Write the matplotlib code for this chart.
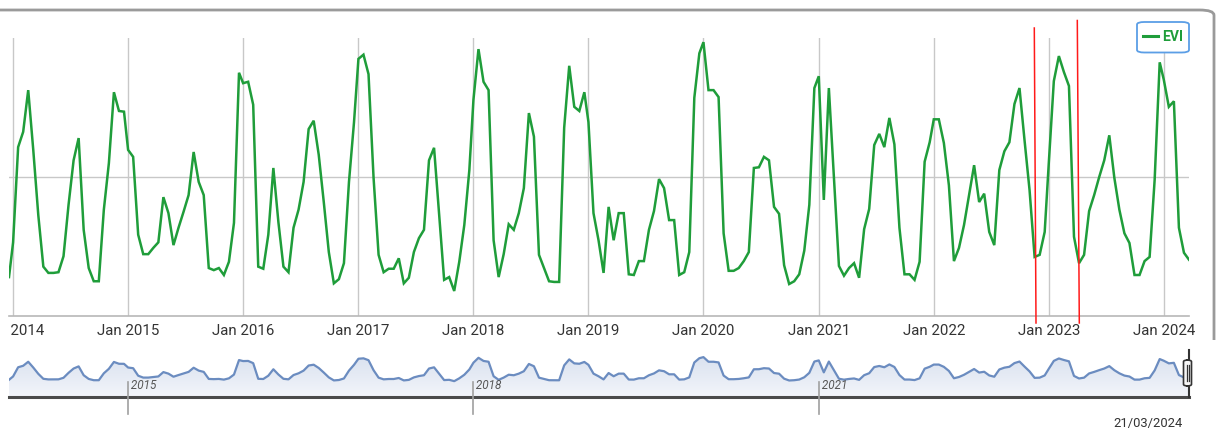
import datetime as dt

import matplotlib
matplotlib.use("Agg")
import matplotlib.pyplot as plt
import matplotlib.dates as mdates
import numpy as np
from matplotlib.lines import Line2D
from matplotlib.patches import FancyBboxPatch, Rectangle

# ---- EVI, 16-day composites (composite start days: DOY 1, 17, 33, ... 353) ----
first_composite = dt.date(2013, 12, 19)
first_value = 0.156

evi_2014 = [0.206, 0.343, 0.365, 0.425, 0.339, 0.245, 0.171, 0.162, 0.162, 0.163, 0.186, 0.260,
            0.324, 0.356, 0.224, 0.169, 0.150, 0.150, 0.253, 0.320, 0.422, 0.395, 0.394]
evi_2015 = [0.339, 0.329, 0.217, 0.189, 0.189, 0.198, 0.206, 0.271, 0.248, 0.202, 0.227, 0.250,
            0.274, 0.336, 0.293, 0.274, 0.169, 0.166, 0.169, 0.159, 0.178, 0.234, 0.450]
evi_2016 = [0.435, 0.437, 0.404, 0.171, 0.168, 0.217, 0.313, 0.235, 0.171, 0.163, 0.227, 0.253,
            0.293, 0.369, 0.381, 0.332, 0.264, 0.192, 0.147, 0.153, 0.176, 0.293, 0.379]
evi_2017 = [0.470, 0.476, 0.448, 0.299, 0.188, 0.163, 0.168, 0.168, 0.183, 0.147, 0.155, 0.192,
            0.212, 0.224, 0.324, 0.342, 0.248, 0.152, 0.156, 0.136, 0.178, 0.231, 0.310]
evi_2018 = [0.411, 0.484, 0.437, 0.425, 0.209, 0.156, 0.189, 0.232, 0.224, 0.248, 0.284, 0.392,
            0.358, 0.188, 0.169, 0.150, 0.149, 0.149, 0.371, 0.460, 0.401, 0.395, 0.422]
evi_2019 = [0.379, 0.248, 0.209, 0.162, 0.257, 0.209, 0.248, 0.248, 0.160, 0.159, 0.179, 0.179,
            0.224, 0.251, 0.297, 0.284, 0.238, 0.238, 0.159, 0.163, 0.192, 0.414, 0.478]
evi_2020 = [0.494, 0.425, 0.425, 0.415, 0.219, 0.165, 0.165, 0.169, 0.179, 0.192, 0.313, 0.314,
            0.329, 0.324, 0.257, 0.247, 0.173, 0.146, 0.150, 0.160, 0.194, 0.260, 0.428]
evi_2021 = [0.445, 0.267, 0.428, 0.299, 0.172, 0.158, 0.169, 0.176, 0.155, 0.225, 0.254, 0.346,
            0.362, 0.343, 0.385, 0.347, 0.227, 0.160, 0.160, 0.152, 0.178, 0.322, 0.350]
evi_2022 = [0.383, 0.383, 0.349, 0.288, 0.179, 0.198, 0.231, 0.274, 0.317, 0.264, 0.276, 0.221,
            0.202, 0.310, 0.337, 0.350, 0.405, 0.428, 0.353, 0.281, 0.185, 0.188, 0.221]
evi_2023 = [0.320, 0.438, 0.474, 0.451, 0.431, 0.214, 0.176, 0.188, 0.251, 0.274, 0.300, 0.324,
            0.360, 0.299, 0.253, 0.219, 0.205, 0.159, 0.159, 0.179, 0.185, 0.296, 0.465]
evi_2024 = [0.440, 0.401, 0.409, 0.227, 0.191, 0.181]

yearly = {2014: evi_2014, 2015: evi_2015, 2016: evi_2016, 2017: evi_2017, 2018: evi_2018,
          2019: evi_2019, 2020: evi_2020, 2021: evi_2021, 2022: evi_2022, 2023: evi_2023,
          2024: evi_2024}

series_name = "EVI"
tick_years = list(range(2014, 2025))
navigator_years = [2015, 2018, 2021]
range_end_label = "21/03/2024"

dates = [first_composite]
values = [first_value]
for year, vals in yearly.items():
    for i, v in enumerate(vals):
        dates.append(dt.date(year, 1, 1) + dt.timedelta(days=16 * i))
        values.append(v)
values = np.array(values)

# ---- layout (pixels) ----
W, H = 1217, 430
fig = plt.figure(figsize=(W / 100, H / 100), dpi=100)
fig.patch.set_facecolor("white")


def fx(px):
    return px / W


def fy(py):
    return 1 - py / H


plt.rcParams["font.family"] = ["Roboto", "DejaVu Sans"]

GREEN = "#1f9d3a"
GRID = "#c8c8c8"

# outer chart frame: only its top edge and top-right corner are in view
frame = FancyBboxPatch((fx(-30), fy(600)), fx(1244), fy(10) - fy(600),
                       boxstyle="round,pad=0,rounding_size=0.012",
                       transform=fig.transFigure, facecolor="none",
                       edgecolor="#9a9a9a", lw=2, zorder=0)
fig.add_artist(frame)
frame.set_clip_path(Rectangle((0, fy(340)), 1, 1 - fy(340), transform=fig.transFigure))

# ---- main plot ----
x0, x1 = 9, 1189
ax = fig.add_axes([fx(x0), fy(316), fx(x1 - x0), fy(38) - fy(316)])
ax.plot(dates, values, color=GREEN, lw=1.8, solid_joinstyle="miter", zorder=3)
ax.set_xlim(dates[0], dates[-1])
ax.set_ylim(0.1, 0.5)

ax.set_xticks([dt.date(y, 1, 1) for y in tick_years])
ax.xaxis.set_major_formatter(mdates.DateFormatter("Jan %Y"))
ax.tick_params(axis="x", length=0, pad=6, labelsize=10.8, labelcolor="#333333")
ax.set_yticks([0.3])
ax.tick_params(axis="y", length=0, labelleft=False)
ax.grid(True, color=GRID, lw=1)
for s in ["top", "left", "right"]:
    ax.spines[s].set_visible(False)
ax.spines["bottom"].set_color("#b8b8b8")
ax.spines["bottom"].set_linewidth(1.2)

# the first axis label runs past the left edge of the chart area: hide that overflow
fig.add_artist(Rectangle((0, fy(345)), fx(9.5), fy(318) - fy(345), transform=fig.transFigure,
                         facecolor="white", edgecolor="none", zorder=5))

# legend box
leg = FancyBboxPatch((fx(1137), fy(52.5)), fx(52), fy(22) - fy(52.5),
                     boxstyle="round,pad=0,rounding_size=0.006",
                     transform=fig.transFigure, facecolor="white",
                     edgecolor="#5b9ee6", lw=1.3, zorder=10)
fig.add_artist(leg)
fig.add_artist(Line2D([fx(1143), fx(1158)], [fy(35.5), fy(35.5)], color=GREEN, lw=2.2,
                      transform=fig.transFigure, zorder=11))
fig.text(fx(1162), fy(37), series_name, color=GREEN, fontsize=10, fontweight="bold",
         va="center", ha="left", zorder=11)

# ---- navigator ----
nav = fig.add_axes([fx(x0), fy(397), fx(x1 - x0), fy(350) - fy(397)])
nav.set_xlim(dates[0], dates[-1])
nav.set_ylim(-0.10, 0.60)
nav_num = mdates.date2num(dates)
poly = nav.fill_between(nav_num, values, -0.10, color="none", lw=0)
grad = np.linspace(0, 1, 100).reshape(-1, 1)
im = nav.imshow(grad, extent=[nav_num[0], nav_num[-1], -0.10, 0.60], aspect="auto",
                cmap=matplotlib.colors.LinearSegmentedColormap.from_list(
                    "navfill", ["#f3f5fa", "#d6dfee"]), origin="lower", zorder=1)
im.set_clip_path(poly.get_paths()[0], transform=nav.transData)
nav.plot(nav_num, values, color="#6b8cc0", lw=1.6, zorder=2)
nav.set_yticks([])
nav.set_xticks([])
for s in ["top", "left", "right"]:
    nav.spines[s].set_visible(False)
nav.spines["bottom"].set_color("#4a4a4a")
nav.spines["bottom"].set_linewidth(2.2)
nav.patch.set_alpha(0)

for y in navigator_years:
    xn = mdates.date2num(dt.date(y, 1, 1))
    nav.plot([xn, xn], [0.12, -0.36], color="#a0a0a0", lw=1.2, clip_on=False, zorder=3)
    nav.text(xn, -0.02, f" {y}", style="italic", color="#555555", fontsize=8.5,
             ha="left", va="bottom", zorder=4)

# range handle at right end
xe = mdates.date2num(dates[-1])
nav.plot([xe, xe], [0.60, -0.10], color="#333333", lw=1.5, clip_on=False, zorder=5)
hdl = FancyBboxPatch((fx(1183.5), fy(386)), fx(8), fy(360) - fy(386),
                     boxstyle="round,pad=0,rounding_size=0.004",
                     transform=fig.transFigure, facecolor="#f6f6f6",
                     edgecolor="#333333", lw=1.2, zorder=12)
fig.add_artist(hdl)
for hx in (1186.5, 1188.5):
    fig.add_artist(Line2D([fx(hx), fx(hx)], [fy(365), fy(381)], color="#333333", lw=0.9,
                          transform=fig.transFigure, zorder=13))

fig.text(fx(1183), fy(423), range_end_label, color="#333333", fontsize=9.4,
         ha="right", va="center")

# red reference markers
for xa, xb, ya in [(1034.3, 1036, 28), (1077.3, 1079.3, 20.5)]:
    fig.add_artist(Line2D([fx(xa), fx(xb)], [fy(ya), fy(323)], color="#ff1a1a", lw=1.1,
                          transform=fig.transFigure, zorder=20))

fig.savefig("out.png", dpi=100, facecolor="white")
